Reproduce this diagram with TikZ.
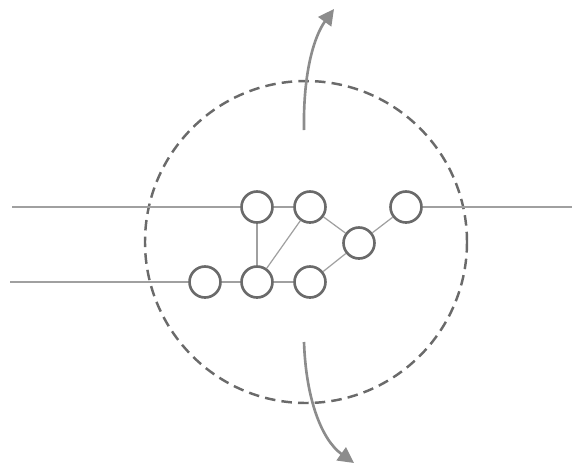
\documentclass[tikz,border=0pt]{standalone}
\usepackage{tikz}
\usetikzlibrary{arrows.meta}
\definecolor{RingGray}{HTML}{6A6A6A}
\definecolor{EdgeGray}{HTML}{A0A0A0}
\definecolor{TurnGray}{HTML}{8C8C8C}
\tikzset{
  qnode/.style={circle,draw=RingGray,line width=1.5pt,fill=white,minimum size=0.62cm,inner sep=0pt},
  qedge/.style={EdgeGray,line width=0.7pt},
  turn/.style={TurnGray,line width=1.5pt,-{Triangle[length=9pt,width=9pt]}}
}

\begin{document}
\begin{tikzpicture}[x=0.02cm,y=-0.02cm]
        \useasboundingbox (0,0) rectangle (572,464);

        % Rotated region
        \draw[RingGray,line width=1.4pt,dash pattern=on 6pt off 3.5pt] (306,242) circle (161);

        % Outside wires
        \coordinate (inA) at (12,207);
        \coordinate (inE) at (10,282);
        \coordinate (outD) at (572,207);

        % Nodes
        \node[qnode] (a) at (257,207) {};
        \node[qnode] (b) at (310,207) {};
        \node[qnode] (c) at (359,243) {};
        \node[qnode] (d) at (406,207) {};
        \node[qnode] (e) at (205,282) {};
        \node[qnode] (f) at (257,282) {};
        \node[qnode] (g) at (310,282) {};

        % Edges
        \draw[qedge] (inA) -- (a);
        \draw[qedge] (inE) -- (e);
        \draw[qedge] (d) -- (outD);
        \draw[qedge] (a) -- (b);
        \draw[qedge] (a) -- (f);
        \draw[qedge] (b) -- (f);
        \draw[qedge] (b) -- (c);
        \draw[qedge] (c) -- (d);
        \draw[qedge] (g) -- (c);
        \draw[qedge] (e) -- (f);
        \draw[qedge] (f) -- (g);

        % Rotation arrows
        \coordinate (upS) at (304,130);
        \coordinate (upT) at (334,9);
        \coordinate (dnS) at (304,342);
        \coordinate (dnT) at (354,463);
        \draw[turn] (upS) .. controls (303,70) and (315,35) .. (upT);
        \draw[turn] (dnS) .. controls (306,400) and (322,440) .. (dnT);
      \end{tikzpicture}
\end{document}
